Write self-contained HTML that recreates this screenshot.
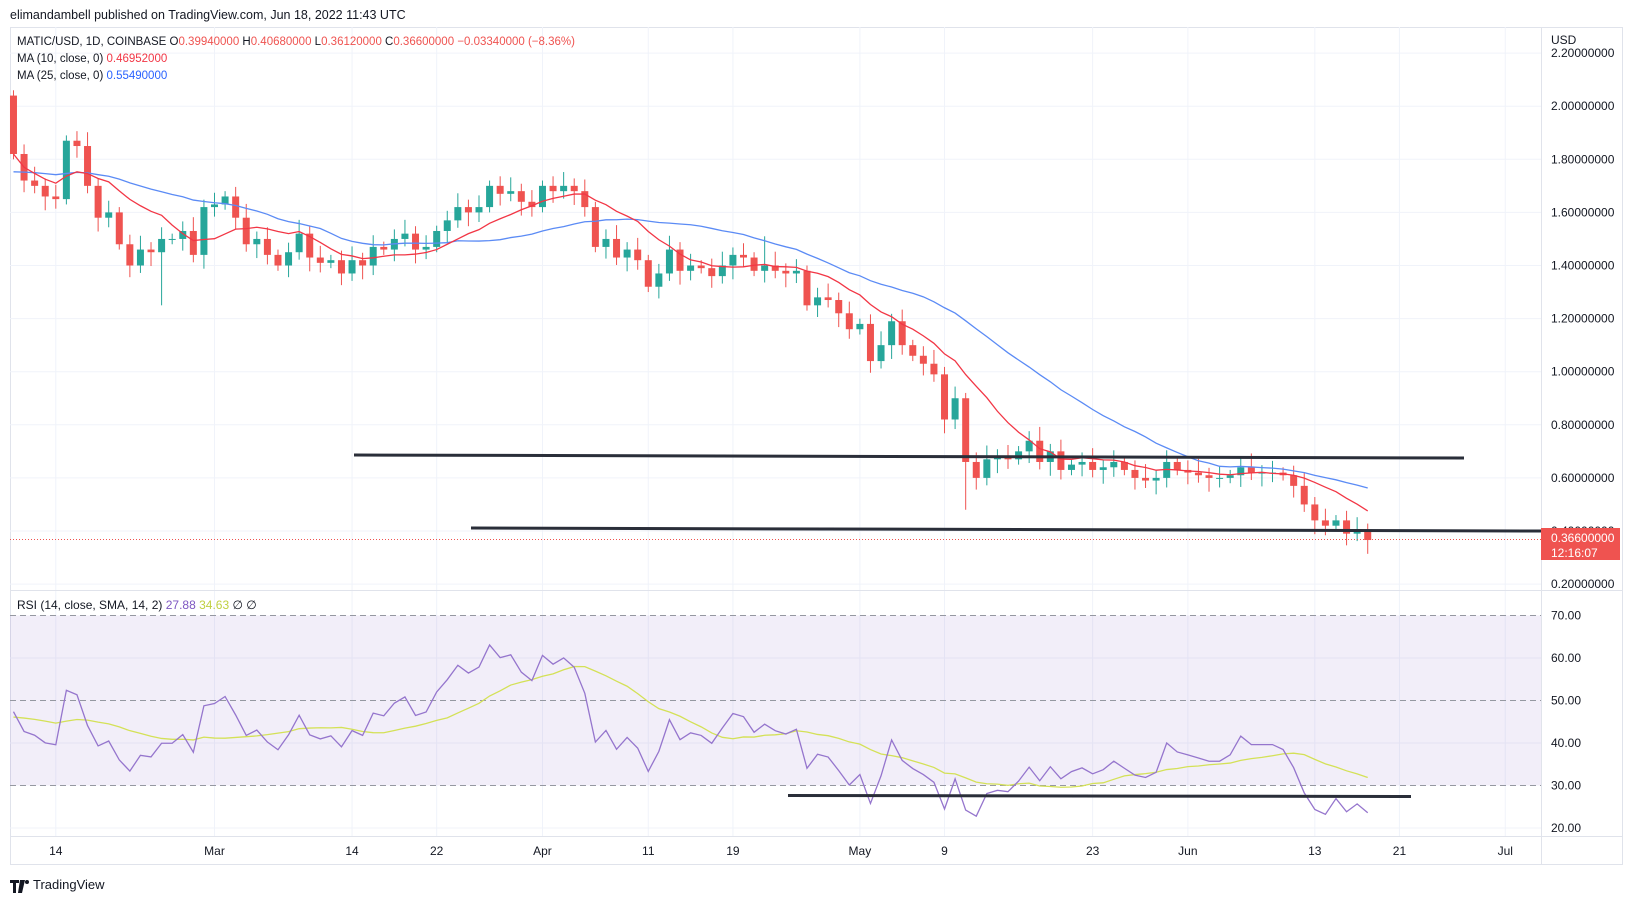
<!DOCTYPE html>
<html><head><meta charset="utf-8">
<style>
html,body{margin:0;padding:0;background:#fff;}
svg{display:block;font-family:"Liberation Sans",sans-serif;}
</style></head>
<body>
<svg id="s" width="1633" height="901" viewBox="0 0 1633 901" xmlns="http://www.w3.org/2000/svg">
<rect width="1633" height="901" fill="#fff"/>
<text x="10" y="19" font-size="12.5" fill="#131722">elimandambell published on TradingView.com, Jun 18, 2022 11:43 UTC</text>
<rect x="10.5" y="27.5" width="1612" height="837" fill="none" stroke="#e0e3eb"/>
<g id="grid"></g>
<rect x="10" y="615.5" width="1531" height="170" fill="#7e57c2" fill-opacity="0.1"/>
<g id="plot"></g>
<line x1="1541.5" y1="27" x2="1541.5" y2="865" stroke="#e0e3eb"/>
<line x1="10" y1="590.5" x2="1623" y2="590.5" stroke="#e0e3eb"/>
<line x1="10" y1="836.5" x2="1623" y2="836.5" stroke="#e0e3eb"/>
<g id="axis" font-size="12" fill="#131722"></g>
<text x="17" y="45" font-size="11.5" fill="#131722">MATIC/USD, 1D, COINBASE  O<tspan fill="#ef5350">0.39940000</tspan>  H<tspan fill="#ef5350">0.40680000</tspan>  L<tspan fill="#ef5350">0.36120000</tspan>  C<tspan fill="#ef5350">0.36600000</tspan>  <tspan fill="#ef5350">−0.03340000 (−8.36%)</tspan></text>
<text x="17" y="62" font-size="11.5" fill="#131722">MA (10, close, 0)  <tspan fill="#f23645">0.46952000</tspan></text>
<text x="17" y="79" font-size="11.5" fill="#131722">MA (25, close, 0)  <tspan fill="#2962ff">0.55490000</tspan></text>
<text x="17" y="609" font-size="12" fill="#131722">RSI (14, close, SMA, 14, 2)  <tspan fill="#7e57c2">27.88</tspan>  <tspan fill="#c0d040">34.63</tspan>  ∅  ∅</text>
<text x="1551" y="44" font-size="12" fill="#131722">USD</text>
<rect x="1541" y="528" width="79" height="32" fill="#ef5350"/>
<text x="1551" y="542" font-size="12" fill="#fff">0.36600000</text>
<text x="1551" y="557" font-size="12" fill="#fff">12:16:07</text>
<g transform="translate(10,876)"><path d="M0 4h9v3H6v10H3V7H0z M10 4h5l-3 13h-4z" fill="#131722"/><circle cx="17" cy="6" r="2" fill="#131722"/></g>
<text x="33" y="889" font-size="13" fill="#131722">TradingView</text>
</svg>
<script>
var C=[1.82,1.72,1.70,1.66,1.65,1.87,1.85,1.70,1.58,1.60,1.48,1.40,1.46,1.45,1.50,1.50,1.53,1.44,1.62,1.63,1.66,1.58,1.48,1.50,1.44,1.40,1.45,1.52,1.43,1.41,1.42,1.37,1.42,1.40,1.47,1.46,1.50,1.52,1.46,1.47,1.53,1.57,1.62,1.60,1.62,1.70,1.67,1.68,1.64,1.62,1.70,1.68,1.70,1.68,1.62,1.47,1.50,1.43,1.46,1.42,1.32,1.37,1.46,1.38,1.40,1.39,1.36,1.40,1.44,1.43,1.38,1.40,1.38,1.37,1.38,1.25,1.28,1.27,1.22,1.16,1.18,1.04,1.10,1.19,1.10,1.06,1.03,0.99,0.82,0.90,0.66,0.60,0.67,0.68,0.67,0.70,0.74,0.66,0.70,0.63,0.65,0.66,0.63,0.64,0.66,0.63,0.60,0.59,0.60,0.66,0.63,0.62,0.61,0.60,0.60,0.61,0.64,0.62,0.62,0.62,0.61,0.57,0.50,0.44,0.42,0.44,0.39,0.40,0.366];
var d0=-19;
function X(i){return 214.5+10.58*(i+d0);}
function Y(p){return 106.2+(2-p)*265.5;}
function R(v){return 615.5+(70-v)*4.25;}
var ns="http://www.w3.org/2000/svg";
function el(g,t,a,txt){var e=document.createElementNS(ns,t);for(var k in a)e.setAttribute(k,a[k]);if(txt!=null)e.textContent=txt;document.getElementById(g).appendChild(e);return e;}
for(var p=0.2;p<=2.21;p+=0.2){var y=Y(p);el('grid','line',{x1:10,x2:1541,y1:y,y2:y,stroke:'#f0f3fa'});el('axis','text',{x:1551,y:y+4},p.toFixed(8));}
[20,40,60].forEach(function(v){el('grid','line',{x1:10,x2:1541,y1:R(v),y2:R(v),stroke:'#f0f3fa'});});
[20,30,40,50,60,70].forEach(function(v){el('axis','text',{x:1551,y:R(v)+4},v.toFixed(2));});
var T=[["14",-15],["Mar",0],["14",13],["22",21],["Apr",31],["11",41],["19",49],["May",61],["9",69],["23",83],["Jun",92],["13",104],["21",112],["Jul",122]];
T.forEach(function(t){var x=214.5+10.58*t[1];el('grid','line',{x1:x,x2:x,y1:27,y2:836,stroke:'#f0f3fa'});el('axis','text',{x:x,y:855,'text-anchor':'middle'},t[0]);});
[70,50,30].forEach(function(v){el('plot','line',{x1:10,x2:1541,y1:R(v),y2:R(v),stroke:'#9598a1','stroke-dasharray':'6 4'});});
var O=[2.04];for(var i=1;i<C.length;i++)O.push(C[i-1]);
for(var i=0;i<C.length;i++){var o=O[i],c=C[i],up=c>=o,col=up?'#26a69a':'#ef5350';var hi=Math.max(o,c)+0.02+((i*37)%5)*0.008,lo=Math.min(o,c)-0.02-((i*53)%5)*0.008;
if(i==14)lo=1.25;if(i==90)lo=0.48;if(i==71)hi=1.51;
var x=X(i);el('plot','line',{x1:x,x2:x,y1:Y(hi),y2:Y(lo),stroke:col});var y1=Y(Math.max(o,c)),y2=Y(Math.min(o,c));el('plot','rect',{x:x-3.5,y:y1,width:7,height:Math.max(1,y2-y1),fill:col});}
function ma(n){var pts=[];for(var i=0;i<C.length;i++){var s=0,k=0;for(var j=Math.max(0,i-n+1);j<=i;j++){s+=C[j];k++;}var v=s/k;if(n==25&&i<24)v=v*(i+1)/25+1.75*(24-i)/25;pts.push(X(i)+','+Y(v));}return pts.join(' ');}
el('plot','polyline',{points:ma(25),fill:'none',stroke:'#5b8bf5','stroke-width':1.3});
el('plot','polyline',{points:ma(10),fill:'none',stroke:'#f23645','stroke-width':1.3});
var ag=0.036,al=0.04,rs=[];for(var i=0;i<C.length;i++){var ch=i?C[i]-C[i-1]:0;ag=(ag*13+Math.max(ch,0))/14;al=(al*13+Math.max(-ch,0))/14;rs.push(100-100/(1+ag/al));}
var rp=[],sp=[];for(var i=0;i<C.length;i++){rp.push(X(i)+','+R(rs[i]));var s=0,k=0;for(var j=Math.max(0,i-13);j<=i;j++){s+=rs[j];k++;}var sv=s/k;if(i<13)sv=(s+46*(13-i))/14;sp.push(X(i)+','+R(sv));}
el('plot','polyline',{points:sp.join(' '),fill:'none',stroke:'#d4e157','stroke-width':1.3});
el('plot','polyline',{points:rp.join(' '),fill:'none',stroke:'#9575cd','stroke-width':1.3});
el('plot','line',{x1:354,y1:455,x2:1464,y2:458,stroke:'#2a2e39','stroke-width':3});
el('plot','line',{x1:471,y1:528,x2:1541,y2:531,stroke:'#2a2e39','stroke-width':3});
el('plot','line',{x1:788,y1:795.5,x2:1411,y2:796.5,stroke:'#2a2e39','stroke-width':3});
el('plot','line',{x1:10,y1:539.5,x2:1541,y2:539.5,stroke:'#ef5350','stroke-dasharray':'1 2'});
</script>
</body></html>
